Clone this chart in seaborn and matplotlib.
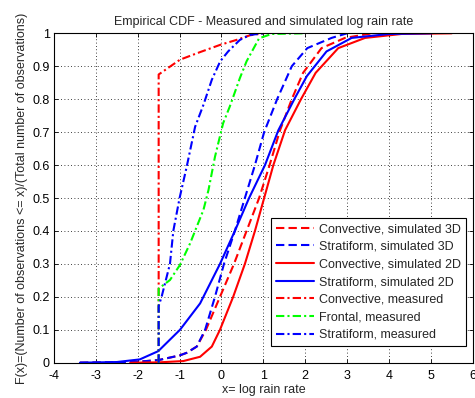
import matplotlib
matplotlib.use("Agg")
import matplotlib.pyplot as plt
import seaborn as sns

# ---- data ----
conv3d_x = [-3.38, -2.5, -2.0, -1.5, -1.0, -0.83, -0.59, -0.37, -0.035, 0.3, 0.6, 0.9, 1.15, 1.4, 1.68, 1.95, 2.39, 2.95, 3.6]
conv3d_y = [0.0, 0.001, 0.003, 0.008, 0.022, 0.03, 0.049, 0.1, 0.2, 0.30, 0.40, 0.50, 0.60, 0.706, 0.80, 0.88, 0.955, 0.986, 1.0]

strat3d_x = [-3.38, -2.5, -2.0, -1.5, -1.0, -0.83, -0.59, -0.39, -0.155, 0.06, 0.32, 0.56, 0.8, 1.02, 1.33, 1.68, 2.05, 2.63, 3.0]
strat3d_y = [0.0, 0.001, 0.003, 0.008, 0.022, 0.03, 0.049, 0.1, 0.2, 0.30, 0.40, 0.50, 0.60, 0.70, 0.80, 0.90, 0.955, 0.986, 1.0]

conv2d_x = [-2.18, -1.5, -0.91, -0.51, -0.23, -0.035, 0.28, 0.56, 0.8, 1.02, 1.24, 1.52, 1.9, 2.25, 2.79, 3.43, 4.3, 5.5]
conv2d_y = [0.0, 0.001, 0.005, 0.018, 0.049, 0.1, 0.2, 0.3, 0.4, 0.5, 0.6, 0.706, 0.8, 0.88, 0.955, 0.986, 0.998, 1.0]

strat2d_x = [-3.38, -2.5, -1.95, -1.51, -0.99, -0.51, -0.035, 0.32, 0.66, 1.04, 1.36, 1.74, 2.04, 2.51, 3.11, 4.0, 5.02]
strat2d_y = [0.0, 0.002, 0.01, 0.035, 0.1, 0.18, 0.30, 0.40, 0.50, 0.60, 0.706, 0.80, 0.87, 0.945, 0.986, 0.998, 1.0]

convm_x = [-1.5, -1.5, -0.99, -0.51, -0.03, 0.36, 0.68, 1.0]
convm_y = [0.0, 0.875, 0.92, 0.943, 0.965, 0.98, 0.994, 1.0]

frontm_x = [-1.5, -1.5, -1.23, -0.99, -0.75, -0.59, -0.43, -0.31, -0.155, 0.04, 0.2, 0.44, 0.6, 0.9, 1.2, 1.95]
frontm_y = [0.0, 0.225, 0.251, 0.297, 0.362, 0.413, 0.464, 0.524, 0.625, 0.727, 0.778, 0.864, 0.915, 0.985, 0.998, 1.0]

stratm_x = [-1.5, -1.5, -1.43, -1.23, -1.15, -1.0, -0.83, -0.63, -0.43, -0.23, -0.03, 0.16, 0.44, 0.68, 1.0]
stratm_y = [0.0, 0.172, 0.2, 0.3, 0.4, 0.5, 0.595, 0.716, 0.783, 0.859, 0.915, 0.945, 0.98, 0.995, 1.0]

labels = ["Convective, simulated 3D", "Stratiform, simulated 3D",
          "Convective, simulated 2D", "Stratiform, simulated 2D",
          "Convective, measured", "Frontal, measured", "Stratiform, measured"]

x_ticks = [-4, -3, -2, -1, 0, 1, 2, 3, 4, 5, 6]
y_ticks = [0, 0.1, 0.2, 0.3, 0.4, 0.5, 0.6, 0.7, 0.8, 0.9, 1]
y_ticklabels = ["0", "0.1", "0.2", "0.3", "0.4", "0.5", "0.6", "0.7", "0.8", "0.9", "1"]

# ---- styling ----
sns.set_style("white")
plt.rcParams["font.family"] = ["Liberation Sans", "DejaVu Sans"]
FS = 9

fig = plt.figure(figsize=(4.75, 3.98), dpi=100)
ax = fig.add_axes([0.1137, 0.0887, 0.8813, 0.8276])

dashed = (0, (4, 2))
dashdot = (0, (4, 1.5, 1, 1.5))
series = [
    (conv3d_x, conv3d_y, "#ff0000", dashed),
    (strat3d_x, strat3d_y, "#0000ff", dashed),
    (conv2d_x, conv2d_y, "#ff0000", "-"),
    (strat2d_x, strat2d_y, "#0000ff", "-"),
    (convm_x, convm_y, "#ff0000", dashdot),
    (frontm_x, frontm_y, "#00ff00", dashdot),
    (stratm_x, stratm_y, "#0000ff", dashdot),
]
for (xs, ys, col, ls), lab in zip(series, labels):
    sns.lineplot(x=xs, y=ys, ax=ax, color=col, linestyle=ls, linewidth=1.5,
                 estimator=None, sort=False, label=lab)

ax.set_xlim(-4, 6)
ax.set_ylim(0, 1)
ax.set_xticks(x_ticks)
ax.set_xticklabels([str(t) for t in x_ticks], fontsize=FS)
ax.set_yticks(y_ticks)
ax.set_yticklabels(y_ticklabels, fontsize=FS)
ax.tick_params(direction="in", length=3, width=0.6, top=True, right=True,
               bottom=True, left=True, colors="black")
ax.tick_params(axis="x", pad=5)
ax.tick_params(axis="y", pad=3)
ax.grid(True, color="black", linestyle=(0, (1, 3)), linewidth=0.6)
for s in ax.spines.values():
    s.set_visible(True)
    s.set_color("black")
    s.set_linewidth(0.8)

ax.set_title("Empirical CDF - Measured and simulated log rain rate", fontsize=FS, pad=6)
ax.set_xlabel("x= log rain rate", fontsize=FS, labelpad=2)
ax.set_ylabel("F(x)=(Number of observations <= x)/(Total number of observations)",
              fontsize=FS, labelpad=3)

leg = ax.legend(loc="lower right", bbox_to_anchor=(0.984, 0.051), borderaxespad=0,
                fontsize=FS, frameon=True, fancybox=False, framealpha=1,
                edgecolor="black", handlelength=3.0, labelspacing=0.45,
                handletextpad=0.4, borderpad=0.4)
leg.get_frame().set_linewidth(0.8)

fig.savefig("out.png", dpi=100)
